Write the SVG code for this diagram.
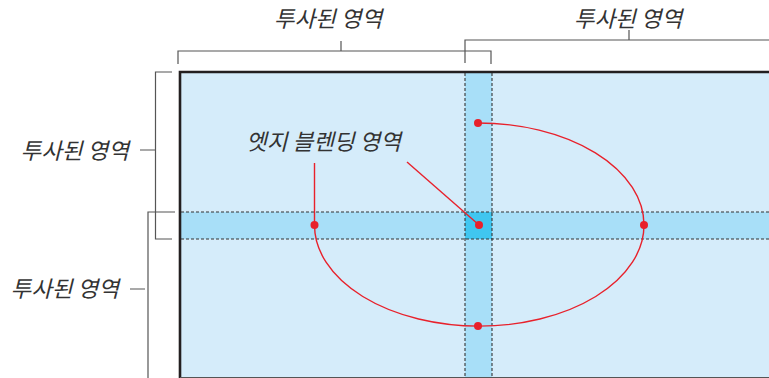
<svg xmlns="http://www.w3.org/2000/svg" width="769" height="378" viewBox="0 0 769 378">
<style>
.lbl{font-family:"Noto Sans CJK KR","Noto Sans",sans-serif;font-style:italic;font-size:22.5px;fill:#333}
.brk{fill:none;stroke:#555;stroke-width:1.2}
.dash{stroke:#333;stroke-width:1.1;stroke-dasharray:3 2;fill:none}
.red{fill:none;stroke:#e8212b;stroke-width:1.4}
.dot{fill:#e8212b}
</style>
<rect width="769" height="378" fill="#fff"/>
<g id="screen">
<rect x="180" y="72" width="600" height="320" fill="#d5ecfa"/>
<rect x="465" y="72" width="27" height="306" fill="#a8dff8"/>
<rect x="180" y="212" width="589" height="27" fill="#a8dff8"/>
<rect x="465" y="212" width="27" height="27" fill="#40c6f0"/>
<path d="M180,378 V72 H769" fill="none" stroke="#231f20" stroke-width="2.6"/>
<path d="M180,377.5 H769" stroke="#555" stroke-width="1.2"/>
</g>
<g id="blend-lines">
<path class="dash" d="M465,73 V378 M492,73 V378 M181,212 H769 M181,239 H769"/>
</g>
<g id="bracket-top-left">
<path class="brk" d="M178,64 V51 H491 V64 M341,51 V41"/>
<text class="lbl" x="328" y="27" text-anchor="middle">투사된 영역</text>
</g>
<g id="bracket-top-right">
<path class="brk" d="M465,63 V40 H769 M629,40 V30"/>
<text class="lbl" x="628" y="27" text-anchor="middle">투사된 영역</text>
</g>
<g id="bracket-left-top">
<path class="brk" d="M172,72 H155.5 V239 H172 M140,150 H155"/>
<text class="lbl" x="129" y="159" text-anchor="end">투사된 영역</text>
</g>
<g id="bracket-left-bottom">
<path class="brk" d="M175,212 H148 V378 M130,289 H145"/>
<text class="lbl" x="119" y="297" text-anchor="end">투사된 영역</text>
</g>
<g id="edge-blend-label">
<text class="lbl" x="246" y="150">엣지 블렌딩 영역</text>
</g>
<g id="connectors">
<path class="red" d="M314.5,163 V225 A164.5,101 0 0 0 644,225 A166,102 0 0 0 478,123"/>
<path class="red" d="M407,162 L479,225"/>
</g>
<g id="dots">
<circle class="dot" cx="478" cy="123" r="4"/>
<circle class="dot" cx="479" cy="225" r="4"/>
<circle class="dot" cx="314.5" cy="225" r="4"/>
<circle class="dot" cx="644" cy="225" r="4"/>
<circle class="dot" cx="478" cy="326" r="4"/>
</g>
</svg>
